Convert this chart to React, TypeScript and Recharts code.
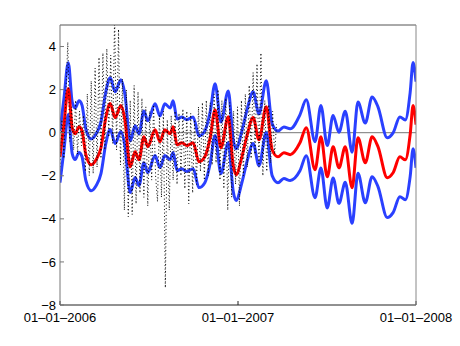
import React from 'react';
import { LineChart, Line, XAxis, YAxis, ReferenceLine } from 'recharts';

// x values are days since 01-01-2006
const xTicks = [0, 365, 730];
const xTickLabels = ['01–01–2006', '01–01–2007', '01–01–2008'];
const yTicks = [-8, -6, -4, -2, 0, 2, 4];

const curveDays = [
  0, 8, 17, 25, 31, 39, 45, 53, 64, 74, 84, 94, 103, 113, 125, 133, 144, 154, 162, 172,
  180, 195, 205, 215, 226, 232, 240, 250, 260, 273, 285, 297, 308, 318, 330, 345, 355, 361, 373, 384,
  396, 408, 423, 435, 447, 459, 472, 492, 505, 523, 535, 548, 560, 572, 585, 599, 611, 626, 640, 652,
  671, 683, 697, 708, 718, 724, 730,
];

const mean = [
  -1.12, 0.37, 2.05, 0.23, -0.05, 0.28, 0.09, -1.02, -1.49, -1.26, -0.7, 0.7, 1.35, 0.7, 1.26, 0.6, -1.58, -0.88, -1.26, -0.19,
  -0.65, 0.14, -0.42, 0.14, -0.05, 0.28, -0.56, -0.47, -0.6, -0.47, -1.35, -1.12, -0.23, 1.07, -0.7, 0.74, -1.49, -1.95, -1.12, -0.09,
  0.7, -0.33, 1.21, -0.79, -1.12, -0.93, -1.02, -0.47, 0.23, -1.72, -0.19, -2.05, -0.65, -1.63, -0.65, -2.56, -0.23, -1.4, -0.19, -0.65,
  -2.09, -1.86, -1.12, -1.26, -0.09, 1.26, 0.37,
];

const upper = [
  0.08, 1.57, 3.25, 1.43, 1.15, 1.48, 1.29, 0.18, -0.29, -0.06, 0.5, 1.9, 2.55, 1.9, 2.46, 1.8, -0.38, 0.32, -0.06, 1.01,
  0.55, 1.34, 0.78, 1.34, 1.15, 1.48, 0.64, 0.73, 0.6, 0.73, -0.15, 0.08, 0.97, 2.27, 0.5, 1.94, -0.29, -0.75, 0.08, 1.11,
  1.9, 0.87, 2.41, 0.41, 0.08, 0.27, 0.18, 0.83, 1.53, -0.42, 1.26, -0.6, 0.8, 0.02, 1.0, -0.91, 1.42, 0.45, 1.66, 1.2,
  -0.24, -0.01, 0.73, 0.59, 1.86, 3.26, 2.37,
];

const lower = [
  -2.32, -0.83, 0.85, -0.97, -1.25, -0.92, -1.11, -2.22, -2.69, -2.46, -1.9, -0.5, 0.15, -0.5, 0.06, -0.6, -2.78, -2.08, -2.46, -1.39,
  -1.85, -1.06, -1.62, -1.06, -1.25, -0.92, -1.76, -1.67, -1.8, -1.67, -2.55, -2.32, -1.43, -0.13, -1.9, -0.46, -2.69, -3.15, -2.32, -1.29,
  -0.5, -1.53, 0.01, -1.99, -2.32, -2.13, -2.22, -1.77, -1.07, -3.02, -1.64, -3.5, -2.1, -3.28, -2.3, -4.21, -1.88, -3.25, -2.04, -2.5,
  -3.94, -3.71, -2.97, -3.11, -2.04, -0.74, -1.63,
];

// raw observations, one every 4 days from 01-01-2006
const obsStep = 4;
const observed = [
  -1.6, 0.6, -1.2, 1.8, 4.2, -0.4, 1.2, -0.8, 1.5, -1.0, 1.0, -0.6, 0.8,
  -1.8, 1.8, -2.0, 2.4, -1.9, 3.0,
  -1.6, 3.5, -1.2, 3.7, -0.8, 3.9, -0.2, 3.6, -0.5,
  5.5, -0.8, 4.8,
  -1.5, 2.5, -3.6, 2.0, -3.9, 1.5, -3.8, 2.2, -3.3,
  1.9, -2.8, 1.6, -3.0, 1.2, -3.4, 1.0, -2.2, 1.3, -2.0,
  -3.2, 0.8, -3.0, 1.0, -7.2, 0.6,
  -3.6, 0.8, -2.2, 1.0, -2.4, 0.9, -2.0, 1.1, -2.6, 1.0, -3.3, 0.9, -2.8, 0.6, -2.4, 1.2, -1.8, 1.4, -2.2, 1.5,
  -2.0, 1.4, -1.5, 1.8, -1.4, 2.0, -2.2, 1.5, -2.6, 1.6, -3.6, 1.4, -3.0, 1.0, -2.4, 1.2, -3.4, 1.5, -2.0, 1.8, -1.6, 2.2, -1.2, 2.8,
  -1.0, 3.2, -1.6, 3.7, -2.0, 1.5, -1.8, 1.3, -1.4, 1.0, -1.0, 0.4,
];

const curveData = curveDays.map((day, i) => ({ day, mean: mean[i], upper: upper[i], lower: lower[i] }));
const obsData = observed.map((v, i) => ({ day: i * obsStep, obs: v }));

const FONT = '"Liberation Sans", Arial, Helvetica, sans-serif';
const fmtY = (v: number) => (v < 0 ? '\u2212' + Math.abs(v) : String(v));
const fmtX = (v: number) => xTickLabels[xTicks.indexOf(v)] ?? '';

export default function App() {
  return (
    <div style={{ position: 'absolute', left: 0, top: 0, width: 460, height: 346, background: '#fff' }}>
      <LineChart width={460} height={346} margin={{ top: 24, right: 43, bottom: 11, left: 30 }}>
        <XAxis
          xAxisId="b"
          dataKey="day"
          type="number"
          domain={[0, 730]}
          allowDataOverflow
          ticks={xTicks}
          interval={0}
          tickFormatter={fmtX}
          height={30}
          tickSize={-4}
          tickMargin={12}
          stroke="#222"
          tick={{ fill: '#000', fontSize: 13, fontFamily: FONT }}
        />
        <XAxis
          xAxisId="t"
          orientation="top"
          dataKey="day"
          type="number"
          domain={[0, 730]}
          allowDataOverflow
          ticks={xTicks}
          interval={0}
          height={1}
          tickSize={-4}
          tick={false}
          stroke="#555"
        />
        <YAxis
          yAxisId="l"
          type="number"
          domain={[-8, 5]}
          allowDataOverflow
          ticks={yTicks}
          interval={0}
          tickFormatter={fmtY}
          width={30}
          tickSize={-4}
          tickMargin={8}
          stroke="#777"
          tick={{ fill: '#000', fontSize: 13, fontFamily: FONT }}
        />
        <YAxis
          yAxisId="r"
          orientation="right"
          type="number"
          domain={[-8, 5]}
          allowDataOverflow
          ticks={yTicks}
          interval={0}
          width={1}
          tickSize={-4}
          tick={false}
          stroke="#888"
        />
        <ReferenceLine xAxisId="b" yAxisId="l" y={0} stroke="#777" strokeWidth={1} />
        <Line
          xAxisId="b"
          yAxisId="l"
          data={curveData}
          dataKey="upper"
          type="monotone"
          stroke="#2a40ff"
          strokeWidth={3}
          dot={false}
          isAnimationActive={false}
        />
        <Line
          xAxisId="b"
          yAxisId="l"
          data={curveData}
          dataKey="lower"
          type="monotone"
          stroke="#2a40ff"
          strokeWidth={3}
          dot={false}
          isAnimationActive={false}
        />
        <Line
          xAxisId="b"
          yAxisId="l"
          data={curveData}
          dataKey="mean"
          type="monotone"
          stroke="#ff0000"
          strokeWidth={3}
          dot={false}
          isAnimationActive={false}
        />
        <Line
          xAxisId="t"
          yAxisId="r"
          data={obsData}
          dataKey="obs"
          type="linear"
          stroke="#000"
          strokeWidth={1}
          strokeDasharray="1 2.5"
          dot={false}
          isAnimationActive={false}
        />
      </LineChart>
    </div>
  );
}
